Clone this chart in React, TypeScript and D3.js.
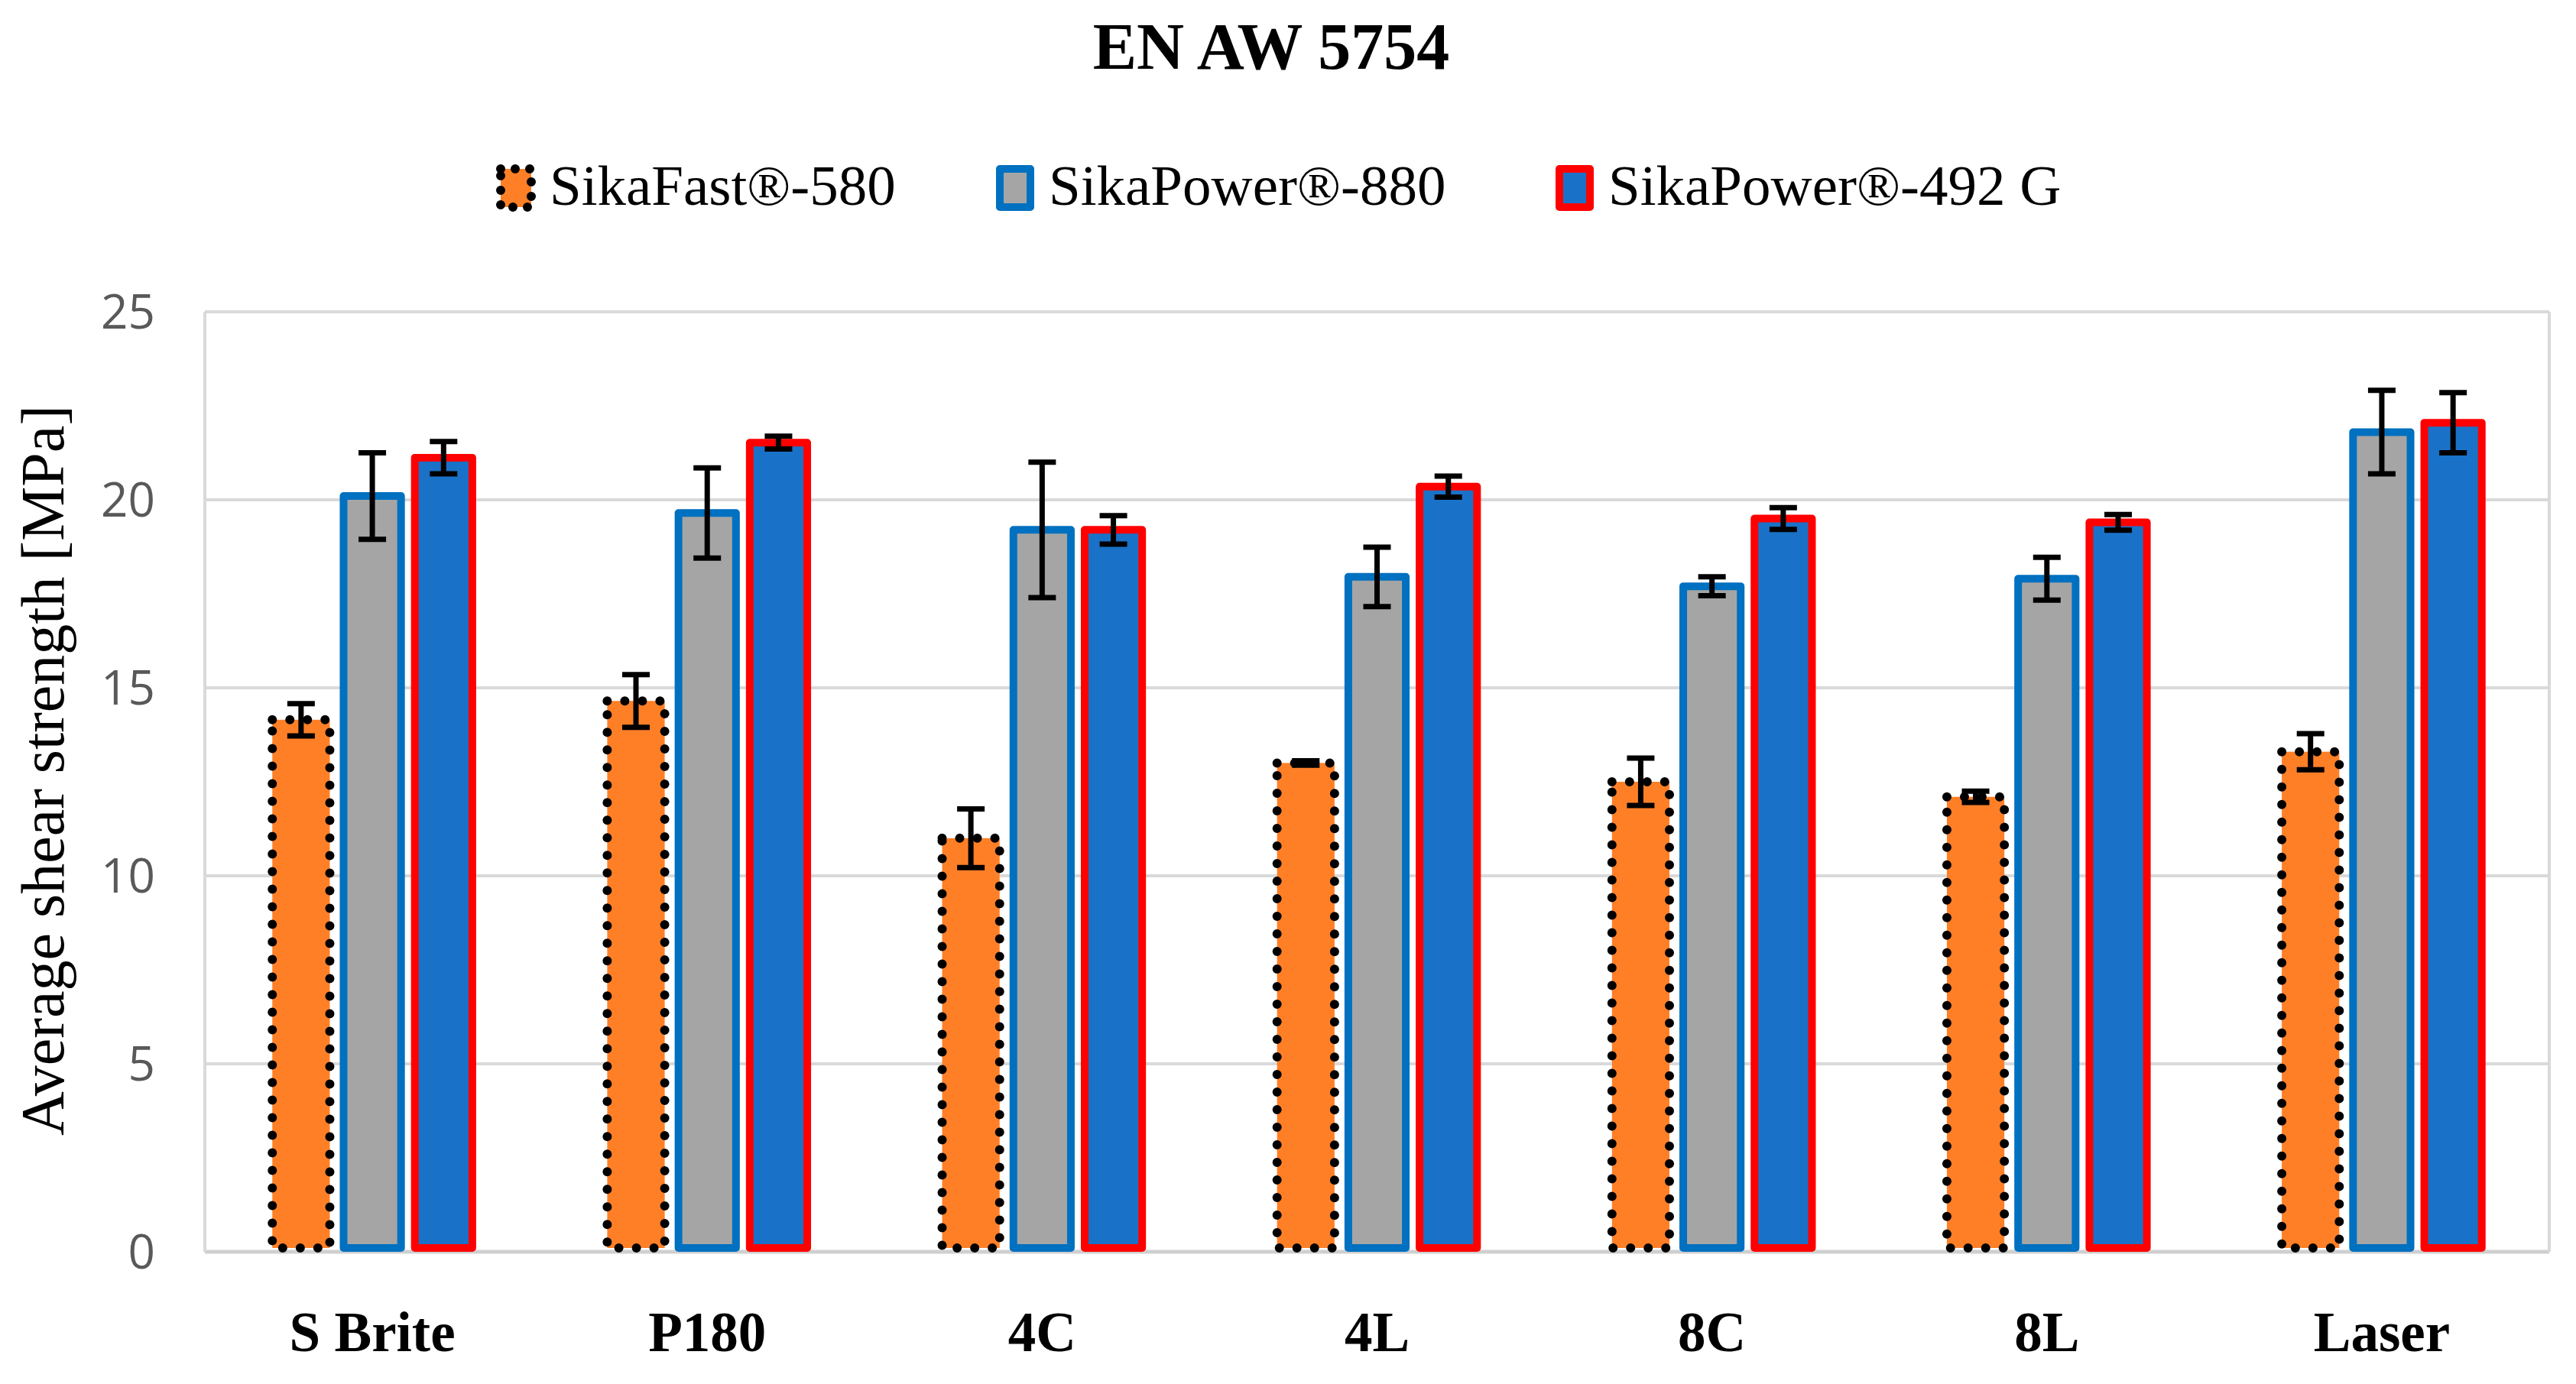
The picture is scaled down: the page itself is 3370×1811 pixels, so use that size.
import React, { useEffect } from "react";
import * as d3 from "d3";

const categories = ["S Brite", "P180", "4C", "4L", "8C", "8L", "Laser"];
const seriesNames = ["SikaFast®-580", "SikaPower®-880", "SikaPower®-492 G"];
const sikaFast580 = [14.15, 14.65, 11.0, 13.0, 12.5, 12.1, 13.3];
const sikaFast580Err = [0.43, 0.7, 0.78, 0.06, 0.63, 0.15, 0.48];
const sikaPower880 = [20.1, 19.65, 19.2, 17.95, 17.7, 17.9, 21.8];
const sikaPower880Err = [1.15, 1.2, 1.8, 0.79, 0.25, 0.57, 1.11];
const sikaPower492G = [21.12, 21.52, 19.2, 20.35, 19.5, 19.4, 22.05];
const sikaPower492GErr = [0.43, 0.17, 0.38, 0.28, 0.29, 0.21, 0.8];
const yTicks = [0, 5, 10, 15, 20, 25];

const seriesValues = [sikaFast580, sikaPower880, sikaPower492G];
const seriesErrors = [sikaFast580Err, sikaPower880Err, sikaPower492GErr];
const seriesStyle = [
  { fill: "#FF7F27", stroke: "#000000", dotted: true },
  { fill: "#A5A5A5", stroke: "#0070C0", dotted: false },
  { fill: "#1A72C8", stroke: "#FF0000", dotted: false },
];

const W = 3370;
const H = 1811;
const plot = { left: 268, right: 3335, top: 408, bottom: 1638 };
const SW = 10;

export default function App() {
  useEffect(() => {
    document.body.style.margin = "0";
  }, []);

  const x0 = d3
    .scaleBand<string>()
    .domain(categories)
    .range([plot.left, plot.right])
    .paddingInner(0.38)
    .paddingOuter(0.19);
  const x1 = d3
    .scaleBand<string>()
    .domain(seriesNames)
    .range([0, x0.bandwidth()])
    .paddingInner(0.086)
    .paddingOuter(0);
  const y = d3.scaleLinear().domain([0, 25]).range([plot.bottom, plot.top]);

  const serif = "'Liberation Serif', 'Times New Roman', serif";
  const legendX = [649, 1302, 2034];

  return (
    <svg width={W} height={H} viewBox={`0 0 ${W} ${H}`} style={{ display: "block", background: "#fff" }}>
      <rect x={0} y={0} width={W} height={H} fill="#ffffff" />
      {/* title */}
      <text x={1663} y={90} textAnchor="middle" fontFamily={serif} fontWeight="bold" fontSize={86} fill="#000">
        EN AW 5754
      </text>
      {/* legend */}
      {seriesNames.map((name, i) => {
        const st = seriesStyle[i];
        return (
          <g key={name}>
            <rect
              x={legendX[i] + 6}
              y={221}
              width={40}
              height={50}
              fill={st.fill}
              stroke={st.stroke}
              strokeWidth={st.dotted ? 12 : SW}
              strokeLinejoin="round"
              strokeDasharray={st.dotted ? "0 19" : undefined}
              strokeLinecap={st.dotted ? "round" : "butt"}
            />
            <text x={legendX[i] + 70} y={268} fontFamily={serif} fontSize={75} fill="#000">
              {name}
            </text>
          </g>
        );
      })}
      {/* gridlines */}
      {yTicks.map((t) => (
        <line
          key={t}
          x1={plot.left}
          x2={plot.right}
          y1={y(t)}
          y2={y(t)}
          stroke={t === 0 ? "#CFCFCF" : "#D9D9D9"}
          strokeWidth={t === 0 ? 5 : 4}
        />
      ))}
      <line x1={plot.left} x2={plot.left} y1={plot.top} y2={plot.bottom} stroke="#D9D9D9" strokeWidth={4} />
      <line x1={plot.right} x2={plot.right} y1={plot.top} y2={plot.bottom} stroke="#D9D9D9" strokeWidth={4} />
      {/* y tick labels */}
      {yTicks.map((t) => (
        <text
          key={t}
          x={203}
          y={y(t)}
          dy="0.36em"
          textAnchor="end"
          fontFamily="'Open Sans', 'Noto Sans', sans-serif"
          fontSize={62}
          fill="#595959"
        >
          {t}
        </text>
      ))}
      {/* y title */}
      <text
        transform={`translate(83,${(plot.top + plot.bottom) / 2 - 15}) rotate(-90)`}
        textAnchor="middle"
        fontFamily={serif}
        fontSize={80}
        fill="#000"
      >
        Average shear strength [MPa]
      </text>
      {/* bars */}
      {categories.map((c, ci) => (
        <g key={c}>
          {seriesNames.map((s, si) => {
            const v = seriesValues[si][ci];
            const e = seriesErrors[si][ci];
            const st = seriesStyle[si];
            const bx = (x0(c) ?? 0) + (x1(s) ?? 0);
            const bw = x1.bandwidth();
            const cx = bx + bw / 2;
            return (
              <g key={s}>
                <rect
                  x={bx + SW / 2}
                  y={y(v)}
                  width={bw - SW}
                  height={y(0) - y(v) - SW / 2}
                  fill={st.fill}
                  stroke={st.stroke}
                  strokeWidth={st.dotted ? 12 : SW}
                  strokeLinejoin="round"
                  strokeDasharray={st.dotted ? "0 23" : undefined}
                  strokeLinecap={st.dotted ? "round" : "butt"}
                />
                <line x1={cx} x2={cx} y1={y(v + e)} y2={y(v - e)} stroke="#000" strokeWidth={7} />
                <line x1={cx - 18} x2={cx + 18} y1={y(v + e)} y2={y(v + e)} stroke="#000" strokeWidth={7} />
                <line x1={cx - 18} x2={cx + 18} y1={y(v - e)} y2={y(v - e)} stroke="#000" strokeWidth={7} />
              </g>
            );
          })}
          <text
            x={(x0(c) ?? 0) + x0.bandwidth() / 2}
            y={1768}
            textAnchor="middle"
            fontFamily={serif}
            fontWeight="bold"
            fontSize={73}
            fill="#000"
          >
            {c}
          </text>
        </g>
      ))}
    </svg>
  );
}
